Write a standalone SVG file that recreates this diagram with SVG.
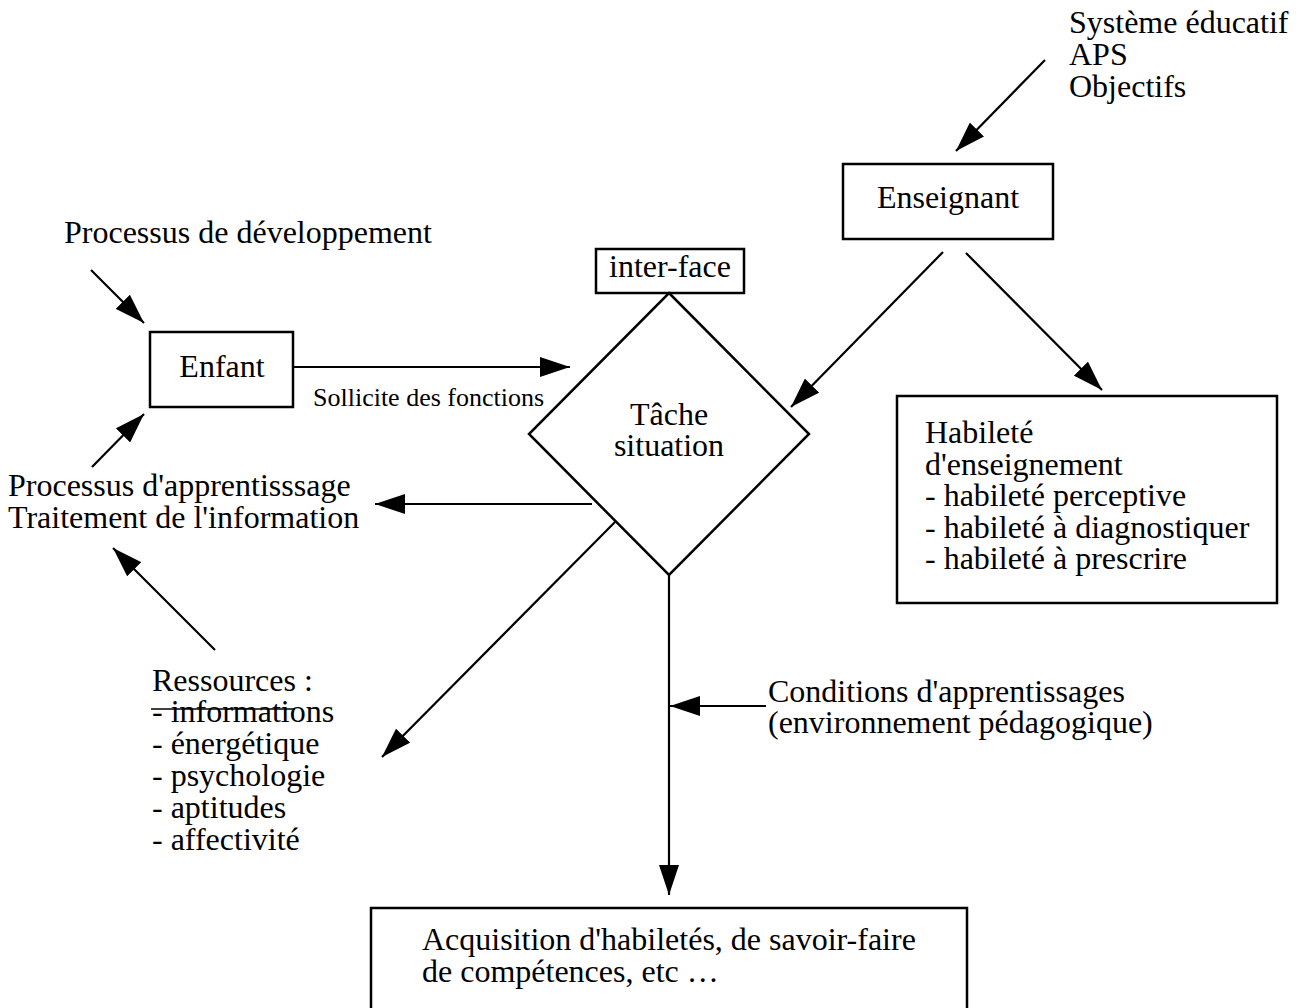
<svg xmlns="http://www.w3.org/2000/svg" width="1299" height="1008" viewBox="0 0 1299 1008">
<style>
text{font-family:"Liberation Serif","Times New Roman",serif;font-size:32px;fill:#000}
.small{font-size:26px}
.c{text-anchor:middle}
.box{fill:#fff;stroke:#000;stroke-width:2.5}
.ln{fill:none;stroke:#000;stroke-width:2.2}
</style>
<defs>
<marker id="ah" markerUnits="userSpaceOnUse" markerWidth="30" markerHeight="20" refX="30" refY="10" orient="auto" viewBox="0 0 30 20">
<path d="M0,0 L30,10 L0,20 z" fill="#000"/>
</marker>
</defs>
<rect width="1299" height="1008" fill="#fff"/>
<g id="connectors">
<line class="ln" x1="91" y1="270" x2="144" y2="323" marker-end="url(#ah)"/>
<line class="ln" x1="92" y1="467" x2="144" y2="414" marker-end="url(#ah)"/>
<line class="ln" x1="293" y1="367" x2="570" y2="367" marker-end="url(#ah)"/>
<line class="ln" x1="592" y1="504" x2="375" y2="504" marker-end="url(#ah)"/>
<line class="ln" x1="215" y1="650" x2="113" y2="548" marker-end="url(#ah)"/>
<line class="ln" x1="615" y1="522" x2="382" y2="757" marker-end="url(#ah)"/>
<line class="ln" x1="943" y1="252" x2="791" y2="407" marker-end="url(#ah)"/>
<line class="ln" x1="966" y1="253" x2="1102" y2="390" marker-end="url(#ah)"/>
<line class="ln" x1="1045" y1="60" x2="956" y2="151" marker-end="url(#ah)"/>
<line class="ln" x1="669" y1="575" x2="669" y2="895" marker-end="url(#ah)"/>
<line class="ln" x1="766" y1="706" x2="670" y2="706" marker-end="url(#ah)"/>
</g>
<g id="label-systeme">
<text x="1069" y="33">Système éducatif</text>
<text x="1069" y="65">APS</text>
<text x="1069" y="97">Objectifs</text>
</g>
<g id="label-developpement">
<text x="64" y="243">Processus de développement</text>
</g>
<g id="node-enfant">
<rect class="box" x="150" y="332" width="143" height="75"/>
<text class="c" x="222" y="377">Enfant</text>
</g>
<g id="label-sollicite">
<text class="small" x="313" y="406">Sollicite des fonctions</text>
</g>
<g id="node-interface">
<rect class="box" x="596" y="249" width="148" height="44"/>
<text class="c" x="670" y="277">inter-face</text>
</g>
<g id="node-tache">
<polygon class="box" points="669,293 809,434 669,575 529,434"/>
<text class="c" x="669" y="425">Tâche</text>
<text class="c" x="669" y="456">situation</text>
</g>
<g id="node-enseignant">
<rect class="box" x="843" y="164" width="210" height="75"/>
<text class="c" x="948" y="208">Enseignant</text>
</g>
<g id="node-habilete">
<rect class="box" x="897" y="396" width="380" height="207"/>
<text x="925" y="443">Habileté</text>
<text x="925" y="475">d'enseignement</text>
<text x="925" y="506">- habileté perceptive</text>
<text x="925" y="538">- habileté à diagnostiquer</text>
<text x="925" y="569">- habileté à prescrire</text>
</g>
<g id="label-apprentissage">
<text x="8" y="496">Processus d'apprentisssage</text>
<text x="8" y="528">Traitement de l'information</text>
</g>
<g id="label-ressources">
<text x="152" y="691">Ressources :</text>
<text x="152" y="722">- informations</text>
<line x1="151" y1="709" x2="295" y2="709" stroke="#000" stroke-width="1.5"/>
<text x="152" y="754">- énergétique</text>
<text x="152" y="786">- psychologie</text>
<text x="152" y="818">- aptitudes</text>
<text x="152" y="850">- affectivité</text>
</g>
<g id="label-conditions">
<text x="768" y="702">Conditions d'apprentissages</text>
<text x="768" y="733">(environnement pédagogique)</text>
</g>
<g id="node-acquisition">
<rect class="box" x="371" y="908" width="596" height="130"/>
<text x="422" y="950">Acquisition d'habiletés, de savoir-faire</text>
<text x="422" y="982">de compétences, etc …</text>
</g>
</svg>
